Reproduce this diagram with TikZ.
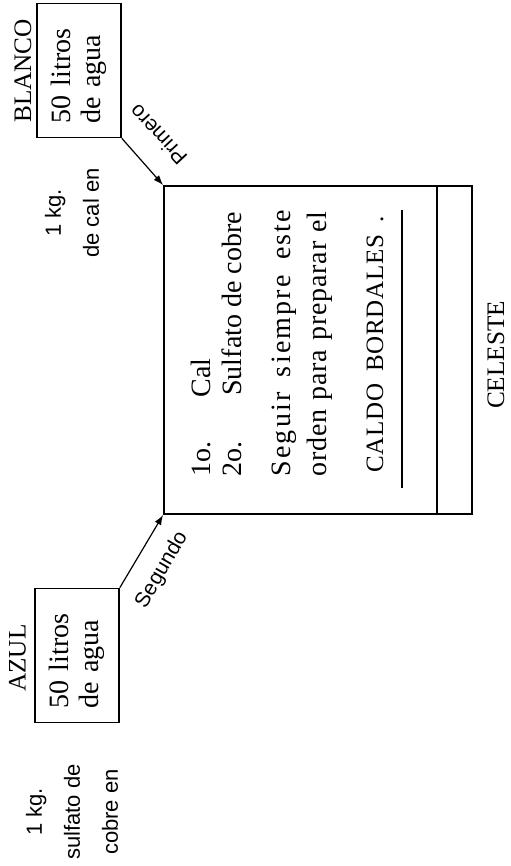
\documentclass[tikz,border=0pt]{standalone}
\usepackage{fontspec}
\setmainfont{Liberation Serif}
\setsansfont{Liberation Sans}
\usetikzlibrary{positioning, arrows.meta}

\begin{document}
\begin{tikzpicture}[
    x=0.5pt, y=-0.5pt,
    box/.style={rectangle, draw, line width=0.8pt, rotate=90,
                minimum width=67pt, minimum height=42pt, inner xsep=7pt,
                text width=53pt, align=left, font=\fontsize{14}{15}\selectfont},
    arrow/.style={-{Latex[length=5pt, width=3.6pt]}, line width=0.6pt},
    side/.style={rotate=90, inner sep=0pt, font=\fontsize{12.6}{14}\selectfont},
    note/.style={rotate=90, align=center, inner sep=0pt,
                 font=\sffamily\fontsize{11}{19}\selectfont},
    linea/.style={rotate=90, anchor=base west, inner sep=0pt,
                  font=\fontsize{14}{16}\selectfont},
    flag/.style={inner sep=0pt, font=\sffamily\fontsize{10.5}{12}\selectfont}
  ]
    \useasboundingbox (0,0) rectangle (510,866);

    % cal
    \node[side] (lblanco) at (23,71) {BLANCO};
    \node[box] (blanco) at (79,70.5) {50 litros\\de agua};
    \node[note] (cal) at (72,213) {1 kg.\\de cal en};

    % sulfato
    \node[side] (lazul) at (17.5,658) {AZUL};
    \node[box] (azul) at (77,655.5) {50 litros\\de agua};
    \node[note] (sulfato) at (72,812) {1 kg.\\sulfato de\\cobre en};

    % mezcla
    \node[draw, line width=0.9pt, minimum width=154pt, minimum height=164pt,
          inner sep=0pt] (mezcla) at (318,350) {};
    \draw[line width=0.8pt] ([xshift=-18pt]mezcla.north east)
        -- ([xshift=-18pt]mezcla.south east);
    \node[side] (celeste) at (496,355) {CELESTE};

    \node[linea] (uno)   at (210,477) {1o.};
    \node[linea] (cal1)  at (210,398) {Cal};
    \node[linea] (dos)   at (241,477) {2o.};
    \node[linea] (sulf2) at (241,396) {Sulfato de cobre};
    \node[linea] (orden1) at (290,477)
        {\makebox[133.5pt][s]{\addfontfeature{LetterSpace=8}Seguir siempre este}};
    \node[linea] (orden2) at (326,477)
        {\makebox[132.5pt][s]{\addfontfeature{LetterSpace=3}orden para preparar el}};
    \node[linea, font=\fontsize{12.5}{14}\selectfont] (caldo) at (383,473)
        {\makebox[128pt][s]{\addfontfeature{LetterSpace=3}CALDO BORDALES .}};
    \draw[line width=0.6pt] (402,488) -- (402,210);

    \draw[arrow] (blanco.south west) -- (mezcla.north west);
    \draw[arrow] (azul.south east) -- (mezcla.south west);
    \node[flag, rotate=133] (primero) at (158,135) {Primero};
    \node[flag, rotate=60] (segundo) at (162,570) {Segundo};
\end{tikzpicture}
\end{document}
